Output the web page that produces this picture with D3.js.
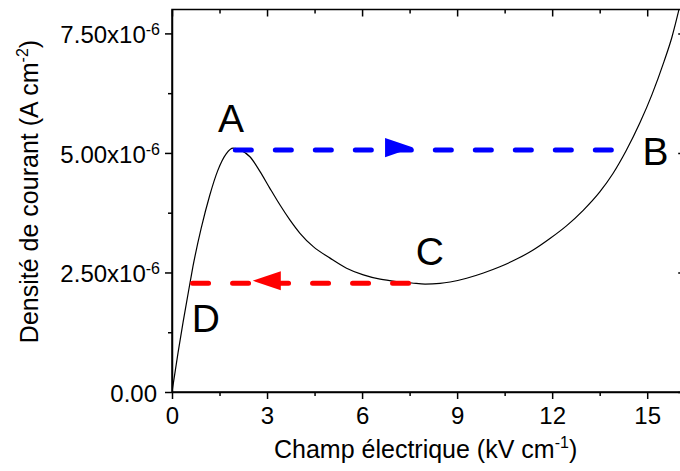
<!DOCTYPE html>
<html><head><meta charset="utf-8">
<script src="https://cdn.jsdelivr.net/npm/d3@7"></script>
<style>
body{margin:0;background:#fff}
svg{display:block}
text{font-family:"Liberation Sans",Arial,sans-serif;fill:#000}
</style>
</head><body>
<svg id="chart" width="680" height="471"></svg>
<script>
// Electric field (kV/cm) and current density (x1e-6 A/cm^2)
const fieldKV = [0, 0.19, 0.35, 0.57, 0.66, 0.92, 1.19, 1.45, 1.71, 1.93, 2.15, 2.46, 2.78, 3.09, 3.41, 3.72, 4.04, 4.46, 4.99, 5.51, 6.04, 6.57, 7.09, 7.57, 7.99, 8.46, 8.78, 9.30, 9.83, 10.35, 10.88, 11.40, 11.93, 12.46, 12.98, 13.51, 13.92, 14.33, 14.77, 15.15, 15.53, 15.78, 16.0];
const currentDensity = [0, 0.82, 1.46, 2.29, 2.62, 3.42, 4.11, 4.64, 4.98, 5.10, 5.06, 4.92, 4.61, 4.26, 3.91, 3.60, 3.32, 3.04, 2.80, 2.59, 2.45, 2.36, 2.31, 2.28, 2.255, 2.27, 2.30, 2.38, 2.49, 2.62, 2.78, 2.97, 3.21, 3.48, 3.80, 4.19, 4.57, 5.04, 5.63, 6.22, 6.91, 7.42, 7.99];

const xTicks = [0, 3, 6, 9, 12, 15];
const xMinorTicks = [1.5, 4.5, 7.5, 10.5, 13.5];
const yTicks = [0, 2.5, 5, 7.5];
const yMinorTicks = [1.25, 3.75, 6.25];
const yTickLabels = ["0.00", "2.50x10", "5.00x10", "7.50x10"];
const yTickExponents = ["", "-6", "-6", "-6"];

// switching paths (A -> B upward, C -> D downward)
const jumpUp = {y: 5.06, from: 1.92, to: 13.98, arrowTip: 7.61};
const jumpDown = {y: 2.275, from: 0.57, to: 7.57, arrowTip: 2.55};

const pointNames = ["A", "B", "C", "D"];
const pointNameX = [1.86, 15.26, 8.14, 1.07];
const pointNameY = [5.44, 4.75, 2.65, 1.25];

const xMax = 16.2, yMax = 8;

const svg = d3.select("#chart");
const x = d3.scaleLinear().domain([0, xMax]).range([172, 172 + xMax * 31.68]);
const y = d3.scaleLinear().domain([0, yMax]).range([392, 9.5]);

const FONT = '"Liberation Sans",Arial,sans-serif';

svg.append("defs").append("clipPath").attr("id", "clip")
  .append("rect").attr("x", x(0)).attr("y", y(yMax)).attr("width", x(xMax) - x(0)).attr("height", y(0) - y(yMax));

function styleAxis(g) {
  g.attr("font-family", FONT).attr("font-size", 24);
  g.selectAll("line").attr("stroke", "#000").attr("stroke-width", 1.5);
  g.selectAll("path").attr("stroke", "#000").attr("stroke-width", 1.5);
  g.selectAll("text").attr("fill", "#000");
}

// bottom
const gx = svg.append("g").attr("transform", `translate(0,${y(0)})`)
  .call(d3.axisBottom(x).tickValues(xTicks).tickSize(7).tickSizeOuter(0).tickPadding(8).tickFormat(d3.format("d")));
styleAxis(gx);
gx.selectAll("text").attr("dy", null).attr("y", 32);
svg.append("g").attr("transform", `translate(0,${y(0)})`)
  .call(d3.axisBottom(x).tickValues(xMinorTicks).tickSize(4).tickSizeOuter(0).tickFormat(""))
  .call(g => { g.select(".domain").remove(); styleAxis(g); });

// top (mirror, inward)
svg.append("g").attr("transform", `translate(0,${y(yMax)})`)
  .call(d3.axisBottom(x).tickValues(xTicks).tickSize(7).tickSizeOuter(0).tickFormat(""))
  .call(g => { g.select(".domain").remove(); styleAxis(g); });
svg.append("g").attr("transform", `translate(0,${y(yMax)})`)
  .call(d3.axisBottom(x).tickValues(xMinorTicks).tickSize(4).tickSizeOuter(0).tickFormat(""))
  .call(g => { g.select(".domain").remove(); styleAxis(g); });

// left
const gy = svg.append("g").attr("transform", `translate(${x(0)},0)`)
  .call(d3.axisLeft(y).tickValues(yTicks).tickSize(7).tickSizeOuter(0).tickPadding(5)
    .tickFormat((d, i) => yTickLabels[i]));
styleAxis(gy);
gy.selectAll("text").attr("dy", null).attr("y", 9.5).each(function(d, i) {
  const t = d3.select(this);
  if (yTickExponents[i]) {
    t.append("tspan").attr("font-size", 16).attr("dy", -8).text(yTickExponents[i]);
  } else {
    t.attr("x", -15);
  }
});
svg.append("g").attr("transform", `translate(${x(0)},0)`)
  .call(d3.axisLeft(y).tickValues(yMinorTicks).tickSize(4).tickSizeOuter(0).tickFormat(""))
  .call(g => { g.select(".domain").remove(); styleAxis(g); });

// right (inward)
svg.append("g").attr("transform", `translate(${x(xMax)},0)`)
  .call(d3.axisRight(y).tickValues(yTicks).tickSize(-7).tickSizeOuter(0).tickFormat(""))
  .call(g => { g.select(".domain").remove(); styleAxis(g); });

// frame
svg.append("rect").attr("x", x(0)).attr("y", y(yMax))
  .attr("width", x(xMax) - x(0)).attr("height", y(0) - y(yMax))
  .attr("fill", "none").attr("stroke", "#000").attr("stroke-width", 1.5);

// curve
const pts = fieldKV.map((v, i) => [v, currentDensity[i]]);
svg.append("path").attr("clip-path", "url(#clip)")
  .datum(pts)
  .attr("fill", "none").attr("stroke", "#000").attr("stroke-width", 1.2)
  .attr("d", d3.line().x(d => x(d[0])).y(d => y(d[1])).curve(d3.curveMonotoneX));

// dashed jump lines with arrows
function jump(j, color, dir) {
  const cap = 2.5;
  svg.append("line")
    .attr("x1", x(j.from) + cap).attr("x2", x(j.to) - cap)
    .attr("y1", y(j.y)).attr("y2", y(j.y))
    .attr("stroke", color).attr("stroke-width", 5)
    .attr("stroke-linecap", "round").attr("stroke-dasharray", "16 24");
  const tx = x(j.arrowTip), ty = y(j.y) - 2.5;
  const len = 28, hh = 9.6;
  const bx = tx - dir * len;
  svg.append("path")
    .attr("d", `M${tx},${ty}L${bx},${ty - hh}L${bx},${ty + hh}Z`)
    .attr("fill", color);
}
jump(jumpUp, "#0000ff", 1);
jump(jumpDown, "#ff0000", -1);

// point names
svg.append("g").selectAll("text").data(pointNames).join("text")
  .attr("x", (d, i) => x(pointNameX[i])).attr("y", (d, i) => y(pointNameY[i]))
  .attr("text-anchor", "middle").attr("font-size", 39).text(d => d);

// axis titles
const xt = svg.append("text").attr("x", (x(0) + x(xMax)) / 2 - 3).attr("y", 458)
  .attr("text-anchor", "middle").attr("font-size", 25);
xt.append("tspan").text("Champ électrique (kV cm");
xt.append("tspan").attr("font-size", 16).attr("dy", -10).text("-1");
xt.append("tspan").attr("dy", 10).text(")");

const yt = svg.append("text").attr("transform", "translate(38,191.5) rotate(-90)")
  .attr("text-anchor", "middle").attr("font-size", 25);
yt.append("tspan").text("Densité de courant (A cm");
yt.append("tspan").attr("font-size", 16).attr("dy", -10).text("-2");
yt.append("tspan").attr("dy", 10).text(")");
</script>
</body></html>
